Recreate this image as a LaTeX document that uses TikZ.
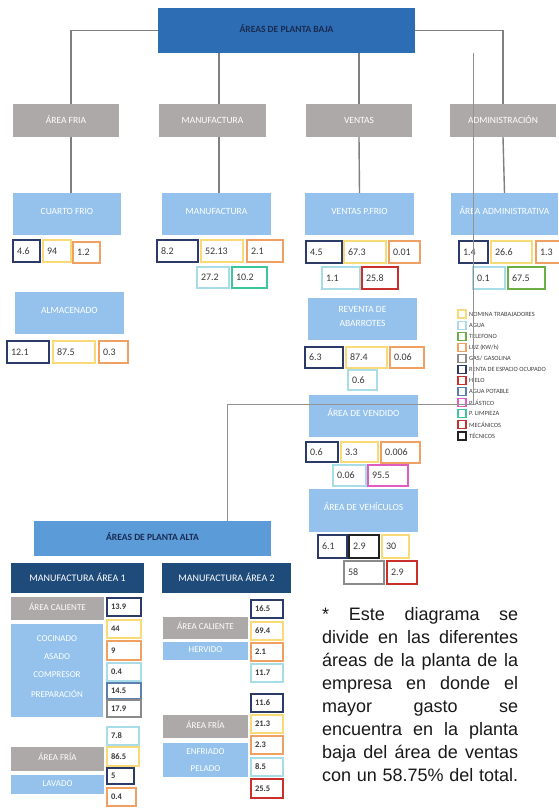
\documentclass[tikz,border=0pt]{standalone}
\usepackage{fontspec}
\setmainfont{Carlito}
\newfontfamily\notefont{Liberation Sans}

% fills
\definecolor{topblue}{HTML}{2D6DB3}
\definecolor{altablue}{HTML}{5A9BD8}
\definecolor{grayf}{HTML}{ADA9A8}
\definecolor{lightblue}{HTML}{94C2EC}
\definecolor{navyf}{HTML}{1F4B7A}
\definecolor{titletext}{HTML}{1B2A52}
\definecolor{valtext}{HTML}{3A3A3A}
\definecolor{legtextc}{HTML}{404040}
\definecolor{linegray}{HTML}{7F7F7F}
% cost category borders
\definecolor{navyb}{HTML}{2B3A67}
\definecolor{yellowb}{HTML}{F9DA78}
\definecolor{orangeb}{HTML}{F0A063}
\definecolor{cyanb}{HTML}{A8DCE6}
\definecolor{greenb}{HTML}{6AAE45}
\definecolor{grayb}{HTML}{8A8A8A}
\definecolor{redb}{HTML}{C9302C}
\definecolor{apotb}{HTML}{5A7FB0}
\definecolor{pinkb}{HTML}{E05CC0}
\definecolor{tealb}{HTML}{3CC79B}
\definecolor{blackb}{HTML}{222222}

\tikzset{
  conn/.style={draw=linegray, line width=1.4pt},
  thinline/.style={draw=linegray!85, line width=1pt},
  toptitle/.style={rectangle, fill=topblue, inner sep=0pt, text=titletext,
    font=\fontsize{9.5}{11}\selectfont\bfseries, text height=6.5pt, text depth=3pt},
  altatitle/.style={toptitle, fill=altablue},
  catbox/.style={rectangle, fill=grayf, inner sep=0pt, text=white,
    font=\fontsize{9.5}{11}\selectfont, text height=6.5pt, text depth=0pt},
  subbox/.style={rectangle, fill=lightblue, inner sep=0pt, text=white,
    font=\fontsize{9.5}{14}\selectfont, align=center, text height=6.5pt, text depth=6pt},
  mfbox/.style={rectangle, fill=navyf, inner sep=0pt, text=white,
    font=\fontsize{10}{12}\selectfont, text height=6.5pt, text depth=0pt},
  hotbox/.style={rectangle, fill=grayf, inner sep=0pt, text=white,
    font=\fontsize{9}{11}\selectfont, text height=6.5pt, text depth=3pt},
  procbox/.style={rectangle, fill=lightblue, inner sep=0pt, text=white,
    font=\fontsize{9}{11}\selectfont, text height=6.5pt, text depth=3pt},
  proctext/.style={inner sep=0pt, text=white, font=\fontsize{9}{11}\selectfont},
  valbox/.style={rectangle, fill=white, line width=1.5pt, inner xsep=4pt, inner ysep=0pt,
    align=left, text=valtext, font=\fontsize{10}{12}\selectfont},
  valsmall/.style={valbox, line width=1.3pt, font=\fontsize{8.5}{10}\selectfont\bfseries},
  legsq/.style={rectangle, fill=white, line width=1.1pt, minimum size=8pt, inner sep=0pt},
  legtext/.style={inner sep=0pt, anchor=west, text=legtextc, font=\fontsize{6.4}{7}\selectfont},
  notetext/.style={inner sep=0pt, anchor=north west, align=left,
    font=\notefont\fontsize{18}{23}\selectfont, text=black!90},
}

% box given by its corners: name, style, x1, y1, x2, y2, text
\newcommand\boxat[7]{%
  \pgfmathsetmacro\bxW{(#5)-(#3)}%
  \pgfmathsetmacro\bxH{(#6)-(#4)}%
  \node[#2, minimum width=\bxW pt, minimum height=\bxH pt]
    (#1) at ({((#3)+(#5))/2},{((#4)+(#6))/2}) {#7};%
}
% cost value box: [style] name, border colour, x1, y1, x2, y2, value
\newcommand\valat[8][valbox]{%
  \pgfmathsetmacro\bxW{(#6)-(#4)}%
  \pgfmathsetmacro\bxH{(#7)-(#5)}%
  \pgfmathsetmacro\bxT{\bxW-8}%
  \node[#1, draw=#3, minimum width=\bxW pt, minimum height=\bxH pt, text width=\bxT pt]
    (#2) at ({((#4)+(#6))/2},{((#5)+(#7))/2}) {#8};%
}
% legend entry: name, row, colour, text
\newcommand\legitem[4]{%
  \node[legsq, draw=#3] (#1) at (462,{314+11.09*(#2)}) {};%
  \node[legtext] (#1t) at (469,{314+11.09*(#2)}) {#4};%
}

\begin{document}
\begin{tikzpicture}[x=1pt,y=-1pt]
\useasboundingbox (0,0) rectangle (559,808);
\clip (0,0) rectangle (559,808);
\fill[white] (0,0) rectangle (559,808);

% ---------- ground floor ----------
\boxat{top}{toptitle}{158}{8}{415}{53}{ÁREAS DE PLANTA BAJA}

\boxat{af}{catbox}{13}{104}{119}{137}{ÁREA FRIA}
\boxat{man}{catbox}{159}{104}{266}{137}{MANUFACTURA}
\boxat{ven}{catbox}{306}{104}{412}{137}{VENTAS}
\boxat{adm}{catbox}{450}{104}{556}{137}{ADMINISTRACIÓN}

\boxat{cf}{subbox}{13}{193}{121}{235}{CUARTO FRIO}
\boxat{bman}{subbox}{162}{193}{271}{235}{MANUFACTURA}
\boxat{vpf}{subbox}{305}{193}{414}{235}{VENTAS P.FRIO}
\boxat{aad}{subbox}{451}{193}{558}{235}{ÁREA ADMINISTRATIVA}
\boxat{alm}{subbox}{15}{292}{124}{334}{ALMACENADO}
\boxat{rev}{subbox, text height=20.5pt}{308}{298}{417}{340}{REVENTA DE\\ABARROTES}
\boxat{vend}{subbox}{309}{395}{418}{437}{ÁREA DE VENDIDO}
\boxat{veh}{subbox}{309}{489}{418}{532}{ÁREA DE VEHÍCULOS}

% cuarto frio
\valat{cfa}{navyb}{13}{240}{40}{262}{4.6}
\valat{cfb}{yellowb}{43}{240}{71}{262}{94}
\valat{cfc}{orangeb}{73}{242}{100}{263}{1.2}
% manufactura
\valat{mna}{navyb}{157}{240}{198}{262}{8.2}
\valat{mnb}{yellowb}{201}{240}{243}{262}{52.13}
\valat{mnc}{orangeb}{247}{240}{283}{262}{2.1}
\valat{mnd}{cyanb}{197}{267}{229}{288}{27.2}
\valat{mne}{tealb}{232}{267}{267}{288}{10.2}
% almacenado
\valat{ala}{navyb}{7}{341}{49}{363}{12.1}
\valat{alb}{yellowb}{53}{341}{95}{363}{87.5}
\valat{alc}{orangeb}{99}{341}{128}{363}{0.3}
% ventas p. frio
\valat{vpa}{navyb}{306}{241}{342}{263}{4.5}
\valat{vpb}{yellowb}{344}{241}{386}{263}{67.3}
\valat{vpc}{orangeb}{389}{241}{420}{263}{0.01}
\valat{vpd}{cyanb}{322}{267}{360}{289}{1.1}
\valat{vpe}{redb}{362}{267}{398}{289}{25.8}
% area administrativa
\valat{ada}{navyb}{459}{241}{488}{263}{1.4}
\valat{adb}{yellowb}{491}{241}{532}{263}{26.6}
\valat{adc}{orangeb}{536}{241}{566}{263}{1.3}
\valat{add}{cyanb}{473}{267}{505}{289}{0.1}
\valat{ade}{greenb}{508}{267}{545}{289}{67.5}
% reventa de abarrotes
\valat{rva}{navyb}{305}{347}{343}{368}{6.3}
\valat{rvb}{yellowb}{346}{347}{387}{368}{87.4}
\valat{rvc}{orangeb}{390}{347}{424}{368}{0.06}
\valat{rvd}{cyanb}{348}{370}{377}{390}{0.6}
% area de vendido
\valat{vda}{navyb}{306}{442}{338}{462}{0.6}
\valat{vdb}{yellowb}{341}{442}{378}{462}{3.3}
\valat{vdc}{orangeb}{381}{442}{420}{463}{0.006}
\valat{vdd}{cyanb}{333}{465}{366}{486}{0.06}
\valat{vde}{pinkb}{368}{465}{408}{486}{95.5}
% area de vehiculos
\valat{vha}{navyb}{318}{535}{347}{558}{6.1}
\valat{vhb}{blackb}{349}{535}{379}{558}{2.9}
\valat{vhc}{yellowb}{382}{535}{409}{558}{30}
\valat{vhd}{grayb}{344}{561}{384}{584}{58}
\valat{vhe}{redb}{387}{561}{417}{584}{2.9}

% legend
\legitem{lg1}{0}{yellowb}{NOMINA TRABAJADORES}
\legitem{lg2}{1}{cyanb}{AGUA}
\legitem{lg3}{2}{greenb}{TELEFONO}
\legitem{lg4}{3}{orangeb}{LUZ (KW/h)}
\legitem{lg5}{4}{grayb}{GAS/ GASOLINA}
\legitem{lg6}{5}{navyb}{RENTA DE ESPACIO OCUPADO}
\legitem{lg7}{6}{redb}{HIELO}
\legitem{lg8}{7}{apotb}{AGUA POTABLE}
\legitem{lg9}{8}{pinkb}{PLÁSTICO}
\legitem{lg10}{9}{tealb}{P. LIMPIEZA}
\legitem{lg11}{10}{redb}{MECÁNICOS}
\legitem{lg12}{11}{blackb}{TÉCNICOS}

% ---------- upper floor ----------
\boxat{alta}{altatitle}{34}{521}{271}{556}{ÁREAS DE PLANTA ALTA}
\boxat{ma1}{mfbox}{11}{563}{144}{593}{MANUFACTURA ÁREA 1}
\boxat{ma2}{mfbox}{162}{563}{291}{593}{MANUFACTURA ÁREA 2}

% area 1
\boxat{h1}{hotbox}{11}{597}{104}{620}{ÁREA CALIENTE}
\boxat{p1}{procbox}{11}{624}{103}{717}{}
\node[proctext] (p1a) at (57,639) {COCINADO};
\node[proctext] (p1b) at (57,657) {ASADO};
\node[proctext] (p1c) at (57,675) {COMPRESOR};
\node[proctext] (p1d) at (57,694) {PREPARACIÓN};
\boxat{c1}{hotbox}{11}{747}{104}{771}{ÁREA FRÍA}
\boxat{l1}{procbox}{11}{775}{104}{794}{LAVADO}

\valat[valsmall]{a1v1}{navyb}{107}{598}{141}{616}{13.9}
\valat[valsmall]{a1v2}{yellowb}{107}{620}{141}{638}{44}
\valat[valsmall]{a1v3}{orangeb}{107}{641}{141}{660}{9}
\valat[valsmall]{a1v4}{cyanb}{107}{663}{141}{681}{0.4}
\valat[valsmall]{a1v5}{apotb}{107}{683}{141}{699}{14.5}
\valat[valsmall]{a1v6}{grayb}{107}{700}{141}{717}{17.9}
\valat[valsmall]{a1v7}{cyanb}{107}{727}{139}{745}{7.8}
\valat[valsmall]{a1v8}{yellowb}{107}{747}{139}{766}{86.5}
\valat[valsmall]{a1v9}{navyb}{107}{768}{134}{784}{5}
\valat[valsmall]{a1v10}{orangeb}{107}{788}{136}{806}{0.4}

% area 2
\boxat{h2}{hotbox}{163}{617}{248}{639}{ÁREA CALIENTE}
\boxat{p2}{procbox}{163}{642}{248}{660}{HERVIDO}
\boxat{c2}{hotbox}{163}{715}{248}{738}{ÁREA FRÍA}
\boxat{e2}{procbox}{163}{743}{248}{777}{}
\node[proctext] (e2a) at (205.5,752) {ENFRIADO};
\node[proctext] (e2b) at (205.5,769) {PELADO};

\valat[valsmall]{a2v1}{navyb}{251}{600}{283}{618}{16.5}
\valat[valsmall]{a2v2}{yellowb}{251}{622}{283}{640}{69.4}
\valat[valsmall]{a2v3}{orangeb}{251}{643}{283}{661}{2.1}
\valat[valsmall]{a2v4}{cyanb}{251}{664}{283}{682}{11.7}
\valat[valsmall]{a2v5}{navyb}{251}{694}{283}{712}{11.6}
\valat[valsmall]{a2v6}{yellowb}{251}{715}{283}{733}{21.3}
\valat[valsmall]{a2v7}{orangeb}{251}{736}{283}{754}{2.3}
\valat[valsmall]{a2v8}{cyanb}{251}{758}{283}{776}{8.5}
\valat[valsmall]{a2v9}{redb}{251}{779}{283}{798}{25.5}

% ---------- connectors ----------
\coordinate (xa) at (71,0);
\coordinate (xm) at (219,0);
\coordinate (xt) at (473,0);
\coordinate (bend) at (227,404);

\draw[conn] (top.west) -| (xa |- af.north);
\draw[conn] (top.east) -| (adm.north);
\draw[conn] (top.south -| xm) -- (xm |- man.north);
\draw[conn] (top.south -| ven.north) -- (ven.north);
\draw[conn] (af.south -| xa) -- (xa |- cf.north);
\draw[conn] (man.south -| xm) -- (xm |- bman.north);
\draw[conn] (ven.south) -- (vpf.north);
\draw[conn] (adm.south) -- (aad.north);
\draw[thinline] (top.south -| xt) |- (bend) -- (bend |- alta.north);

% ---------- note ----------
\node[notetext] (note) at (322,607.5) {%
\makebox[196pt][s]{* Este diagrama se}\\
\makebox[196pt][s]{divide en las diferentes}\\
\makebox[196pt][s]{áreas de la planta de la}\\
\makebox[196pt][s]{empresa en donde el}\\
\makebox[196pt][s]{mayor gasto se}\\
\makebox[196pt][s]{encuentra en la planta}\\
\makebox[196pt][s]{baja del área de ventas}\\
\makebox[196pt][s]{con un 58.75\% del total.}};
\end{tikzpicture}
\end{document}
